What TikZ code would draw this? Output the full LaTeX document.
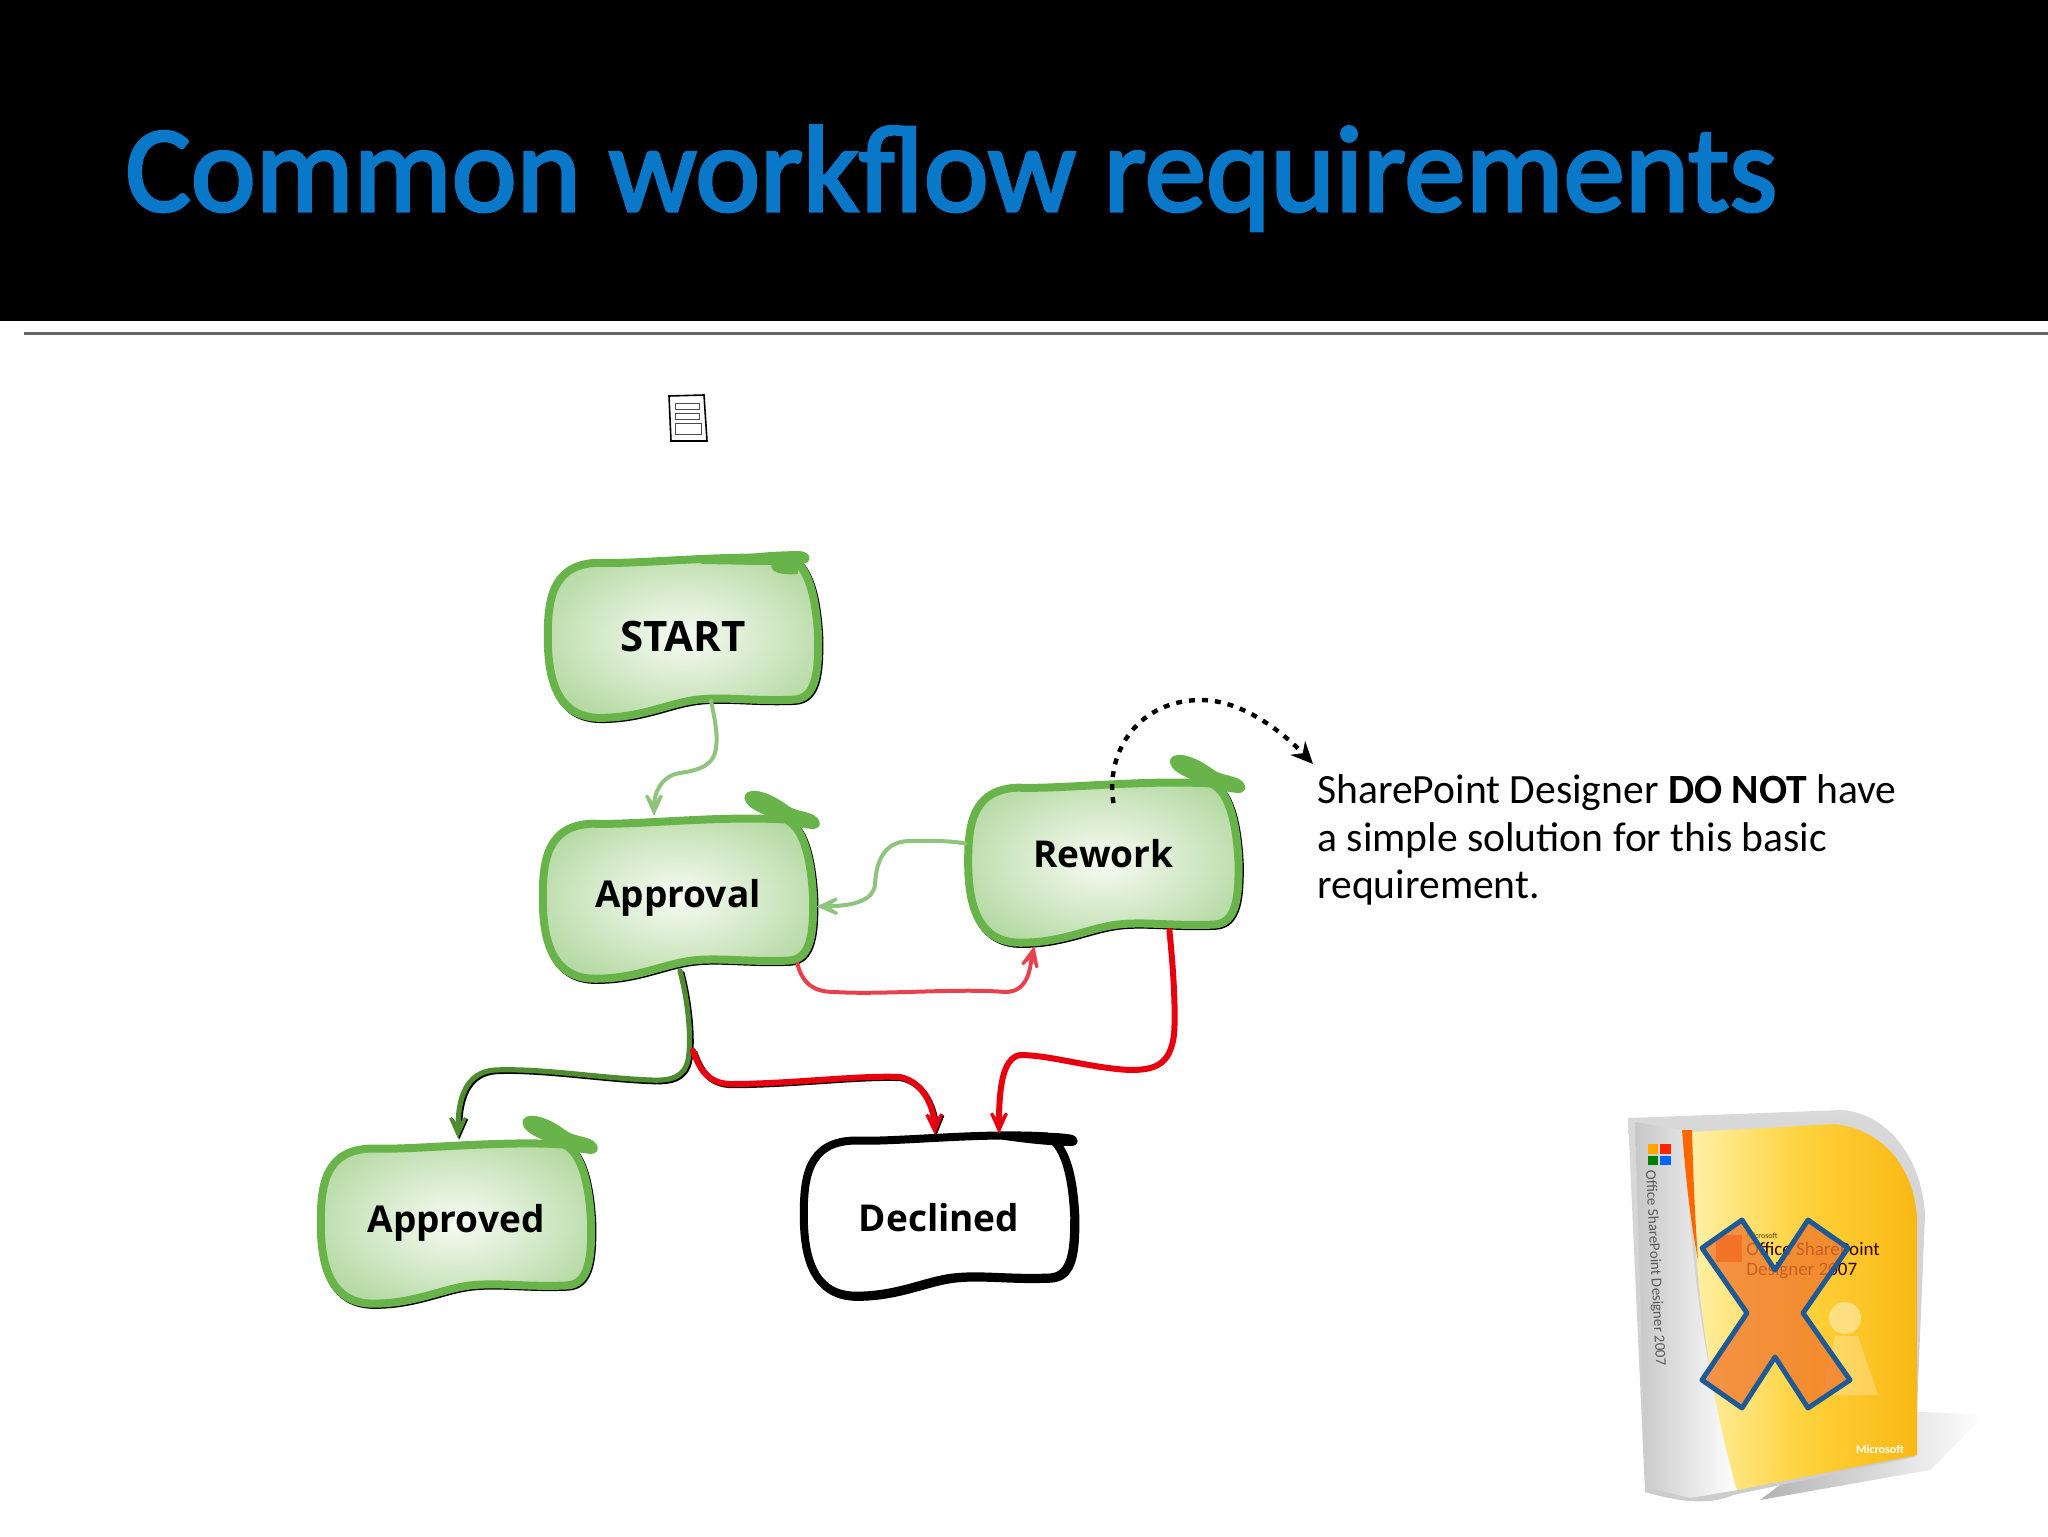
\documentclass[tikz,border=0pt]{standalone}
\usepackage{fontspec}
\setmainfont{Carlito}
\newfontfamily\handfont{Open Sans}
\newfontfamily\titlefont[FakeBold=2.5]{Carlito}
\usetikzlibrary{arrows.meta,calc}
\pgfdeclarelayer{background}
\pgfsetlayers{background,main}
\definecolor{titleBlue}{HTML}{0A78C8}
\definecolor{blobStroke}{HTML}{69B44A}
\definecolor{lineLight}{HTML}{8FC47C}
\definecolor{lineDark}{HTML}{4F8C30}
\definecolor{lineRed}{HTML}{E8000F}
\definecolor{linePink}{HTML}{E8404C}
\definecolor{crossFill}{HTML}{F07A2E}
\definecolor{crossEdge}{HTML}{1F5A96}
\definecolor{glowA}{HTML}{F6FBF3}
\definecolor{glowB}{HTML}{D6EACB}
\definecolor{glowC}{HTML}{A6D291}
\definecolor{glowD}{HTML}{7FBF65}
\definecolor{boxPale}{HTML}{FFF1A8}
\definecolor{boxMid}{HTML}{FFD23C}
\definecolor{boxDeep}{HTML}{F9B814}
\pgfdeclareradialshading{blobGlow}{\pgfpoint{0bp}{0bp}}{color(0bp)=(glowA); color(15bp)=(glowB); color(35bp)=(glowC); color(50bp)=(glowD)}
\tikzstyle{myNode} = [minimum width=138pt, minimum height=82.5pt, inner sep=0pt,
	text height=15pt, text depth=5pt,
	font=\handfont\bfseries\fontsize{18.5}{22}\selectfont]
\tikzstyle{blobGreen} = [shade, shading=blobGlow, draw=blobStroke, line width=4pt]
\tikzstyle{blobPlain} = [fill=white, draw=black, line width=4pt]
\tikzstyle{line} = [draw, line cap=round, -{Stealth[length=18pt,width=16pt,inset=12pt]}]
\tikzstyle{edgeDark} = [preaction={draw=black, line width=3pt, transform canvas={xshift=.6pt,yshift=-.6pt}}]
\tikzstyle{texto} = [inner sep=0pt, anchor=north west, align=left,
	font=\fontsize{20.8}{23.9}\selectfont]
\tikzstyle{small} = [inner sep=0pt]
\newcommand{\myNode}[2]{node (#1) [myNode] {#2}}
\newcommand{\blobPath}{(-.98,0) .. controls (-.98,-.45) and (-.95,-.88) .. (-.62,-.9)
	.. controls (-.3,-.88) and (.3,-1) .. (.78,-.95)
	.. controls (.93,-.85) and (.97,-.35) .. (.98,.03)
	.. controls (.98,.4) and (.97,.75) .. (.8,.76)
	.. controls (.5,.78) and (.3,.72) .. (.1,.76)
	.. controls (-.1,.8) and (-.3,.98) .. (-.6,.98)
	.. controls (-.9,.98) and (-.98,.55) .. (-.98,0) -- cycle}
\newcommand{\myBlob}[2]{%
	\begin{pgfonlayer}{background}
		\begin{scope}[shift={(#1.center)}, x=69pt, y=-41.25pt]
			% Thin dark edge under the outline
			\path[draw=black, line width=4pt, xshift=.6pt, yshift=-.6pt] \blobPath;
			\path[#2] \blobPath;
		\end{scope}
	\end{pgfonlayer}}
\newcommand{\myTail}[1]{%
	\begin{scope}[shift={(#1.north east)}]
		\path[fill=blobStroke] (-72,-17) .. controls (-72,-28) and (-52,-27) .. (-28,-9)
			.. controls (-20,-3) and (-5,-4) .. (1,3) .. controls (6,9) and (3,14) .. (-4,14)
			.. controls (-12,13) and (-24,12) .. (-30,8) .. controls (-44,2) and (-70,-4) .. (-72,-17) -- cycle;
	\end{scope}}

\begin{document}
\begin{tikzpicture}[x=.5pt, y=-.5pt]
	\useasboundingbox (0,0) rectangle (2048,1536);
	\fill[black] (0,0) rectangle (2048,321);
	\draw[black!60, line width=1.5pt] (24,333) -- (2048,333);
	\node (title) [anchor=base west, inner sep=0pt, text=titleBlue,
		font=\titlefont\fontsize{61.4}{70}\selectfont] at (125,211) {Common workflow requirements};

	% Small page icon
	\draw[black, line width=.8pt] (669,396) -- (704,395) -- (707,441) -- (671,441) -- cycle;
	\draw[black!70, line width=.5pt] (675,403) rectangle (699,409);
	\draw[black!70, line width=.5pt] (675,413) rectangle (699,419);
	\draw[black!70, line width=.5pt] (675,423) rectangle (701,434);

	% Flow steps
	\path (683,637) \myNode{start}{\raisebox{-2pt}{\fontsize{21}{22}\selectfont START}};
	\path (start.south)+(-5,178) \myNode{approval}{Approval};
	\path (approval.east)+(287,-36) \myNode{rework}{\raisebox{2pt}{Rework}};
	\path (approval.south)+(-222,242) \myNode{approved}{Approved};
	\path (approval.south)+(261,234) \myNode{declined}{\raisebox{-3.5pt}{Declined}};

	\myBlob{start}{blobGreen}
	\myBlob{approval}{blobGreen}
	\myBlob{rework}{blobGreen}
	\myBlob{approved}{blobGreen}
	\myBlob{declined}{blobPlain}

	% Tails on the top edges
	\myTail{approval}
	\myTail{rework}
	\myTail{approved}
	\begin{scope}[shift={(start.north east)}]
		\path[fill=blobStroke] (-120,7) .. controls (-90,2) and (-60,-3) .. (-22,-3)
			.. controls (-10,-3) and (-8,9) .. (-20,10) .. controls (-50,12) and (-90,10) .. (-120,10) -- cycle;
		\path[fill=blobStroke] (-50,9) .. controls (-52,19) and (-40,21) .. (-24,20) -- (-22,9) -- cycle;
	\end{scope}
	\begin{scope}[shift={(declined.north east)}]
		\path[fill=black] (-80,3) .. controls (-50,0) and (-20,0) .. (-5,3)
			.. controls (2,6) and (2,13) .. (-5,14) .. controls (-30,14) and (-60,10) .. (-80,7) -- cycle;
	\end{scope}

	% Draw arrows between elements
	\path [line, draw=lineLight, line width=2pt]
		($(start.south)+(28,-19)$) .. controls (715,720) and (718,735) .. (716,748)
		.. controls (714,765) and (700,770) .. (680,773)
		.. controls (660,776) and (654,795) .. ($(approval.north)+(-24,1)$);
	\path [line, draw=lineLight, line width=2pt]
		($(rework.west)+(0,-18.5)$) .. controls (945,840) and (925,841) .. (908,841)
		.. controls (885,842) and (876,860) .. (875,885)
		.. controls (873,900) and (855,906) .. ($(approval.east)+(0,8.5)$);
	\path [line, draw=linePink, line width=2pt]
		($(approval.east)+(-19,66)$) .. controls (803,985) and (815,992) .. (835,992)
		.. controls (880,995) and (960,988) .. (1005,992)
		.. controls (1030,992) and (1030,965) .. ($(rework.south)+(-69,1)$);
	\path [line, edgeDark, draw=lineDark, line width=2.6pt]
		($(approval.south)+(2,-10)$) .. controls (688,1000) and (692,1040) .. (688,1060)
		.. controls (684,1078) and (670,1081) .. (650,1080)
		.. controls (600,1078) and (540,1068) .. (495,1070)
		.. controls (465,1072) and (458,1100) .. ($(approved.north)+(2,-1.5)$);
	\path [line, edgeDark, draw=lineRed, line width=3pt]
		($(approval.south)+(15,70)$) .. controls (700,1070) and (708,1083) .. (730,1084)
		.. controls (790,1084) and (860,1075) .. (900,1077)
		.. controls (925,1082) and (934,1110) .. ($(declined.north)+(-4,3)$);
	\path [line, draw=lineRed, line width=3pt]
		($(rework.south)+(66,-14)$) .. controls (1173,965) and (1176,1010) .. (1174,1035)
		.. controls (1170,1065) and (1155,1070) .. (1130,1070)
		.. controls (1090,1068) and (1050,1055) .. (1020,1055)
		.. controls (1002,1058) and (999,1090) .. ($(declined.north)+(60,2)$);

	% Dashed note arrow
	\node (note) [texto] at (1317,774) {SharePoint Designer \textbf{DO NOT} have\\a simple solution for this basic\\requirement.};
	\path [draw, black, line width=2.2pt, dash pattern=on 3pt off 3.5pt,
		-{Stealth[length=11pt,width=10pt]}]
		($(rework.north)+(10,24)$) .. controls (1105,750) and (1140,700) .. (1201,700)
		.. controls (1250,700) and (1295,745) .. ($(note.north west)+(-4,-10)$);

	% Package
	\shade[left color=black!30, right color=white] (1880,1410) -- (1985,1415) -- (1930,1470) -- (1760,1500) -- cycle;
	\shade[top color=black!15, bottom color=black!20]
		(1628,1118) -- (1843,1110) .. controls (1890,1115) and (1922,1160) .. (1925,1215)
		-- (1915,1457) -- (1733,1495) .. controls (1715,1503) and (1690,1505) .. (1645,1492) -- cycle;
	\shade[left color=black!22, right color=white]
		(1635,1122) -- (1684,1130) .. controls (1690,1250) and (1700,1350) .. (1737,1490)
		-- (1690,1498) -- (1646,1487) -- cycle;
	\shade[left color=boxPale, right color=boxDeep, middle color=boxMid]
		(1690,1132) -- (1835,1124) .. controls (1885,1130) and (1915,1170) .. (1917,1220)
		-- (1917,1455) -- (1737,1490) .. controls (1705,1380) and (1692,1250) .. (1690,1132) -- cycle;
	\fill[orange!80!red] (1682,1130) -- (1692,1130) .. controls (1693,1170) and (1695,1220) .. (1698,1260)
		.. controls (1690,1220) and (1685,1170) .. (1682,1130) -- cycle;
	\fill[white, opacity=.4] (1845,1318) circle [radius=16];
	\fill[white, opacity=.25] (1835,1336) -- (1858,1336) -- (1878,1395) -- (1822,1395) -- cycle;
	% Package logos and prints
	\fill[orange!70!yellow] (1648,1144) rectangle (1658,1154);
	\fill[red!70!orange] (1660,1144) rectangle (1671,1154);
	\fill[green!50!black] (1648,1156) rectangle (1658,1165);
	\fill[blue!60!cyan] (1660,1156) rectangle (1671,1165);
	\fill[red!50!orange, opacity=.8] (1716,1235) rectangle (1742,1262);
	\node (spine) [small, text=black!65, rotate=-87, font=\fontsize{7.5}{9}\selectfont]
		at (1655,1268) {Office SharePoint Designer 2007};
	\node (coverM) [small, anchor=base west, text=black!60!orange, font=\fontsize{4}{5}\selectfont]
		at (1746,1238) {Microsoft};
	\node (coverA) [small, anchor=base west, text=black!80!red, font=\fontsize{9.5}{11}\selectfont]
		at (1746,1255) {Office SharePoint};
	\node (coverB) [small, anchor=base west, text=black!80!red, font=\fontsize{9.5}{11}\selectfont]
		at (1746,1275) {Designer 2007};
	\node (coverC) [small, text=white, font=\bfseries\fontsize{6}{7}\selectfont] at (1880,1449) {Microsoft};

	% Big cross
	\path[fill=crossFill, fill opacity=.78, draw=crossEdge, line width=2.5pt, line join=round]
		(1742,1220) -- (1775,1270) -- (1808,1220) -- (1848,1248) -- (1803,1313) -- (1850,1380)
		-- (1808,1408) -- (1775,1357) -- (1742,1408) -- (1702,1380) -- (1747,1313) -- (1702,1248) -- cycle;
\end{tikzpicture}
\end{document}
